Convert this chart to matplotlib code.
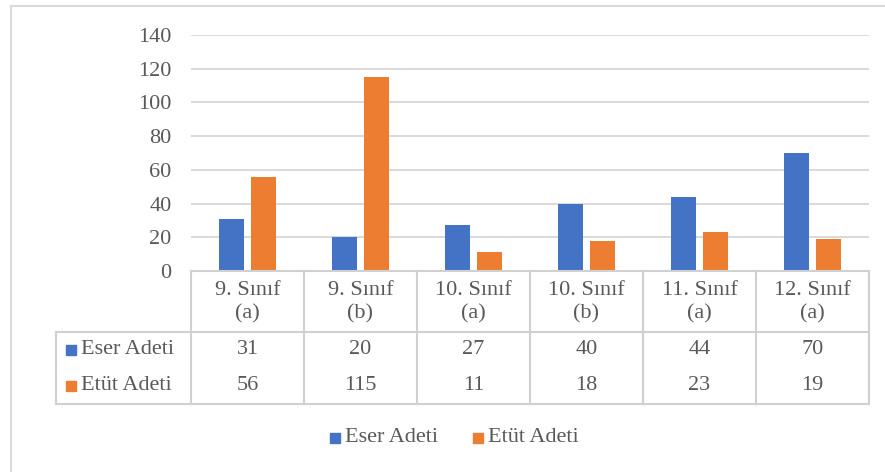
import numpy as np
import matplotlib.pyplot as plt
from matplotlib.patches import Rectangle
from matplotlib.lines import Line2D

categories = ["9. Sınıf\n(a)", "9. Sınıf\n(b)", "10. Sınıf\n(a)", "10. Sınıf\n(b)", "11. Sınıf\n(a)", "12. Sınıf\n(a)"]
series_names = ["Eser Adeti", "Etüt Adeti"]
eser = [31, 20, 27, 40, 44, 70]
etut = [56, 115, 11, 18, 23, 19]
yticks = [0, 20, 40, 60, 80, 100, 120, 140]

blue = "#4472C4"
orange = "#ED7D31"
grey_txt = "#595959"
line_col = "#d9d9d9"
fs = 16

plt.rcParams['font.family'] = ['Liberation Serif', 'DejaVu Serif']

W, H = 885, 472
fig = plt.figure(figsize=(W / 100, H / 100), dpi=100)

def fx(px):
    return px / W

def fy(py):
    return 1 - py / H

# chart frame
fig.add_artist(Line2D([fx(11), fx(11)], [fy(6), 0], color=line_col, lw=1.5))
fig.add_artist(Line2D([fx(11), 1], [fy(6), fy(6)], color=line_col, lw=1.5))

left, right, top, zero = 191, 869, 35, 271
ax = fig.add_axes([fx(left), fy(zero), fx(right - left), (zero - top) / H])
x = np.arange(len(categories))
w = 0.22
ax.bar(x - 0.14, eser, w, color=blue, zorder=3)
ax.bar(x + 0.14, etut, w, color=orange, zorder=3)
ax.set_xlim(-0.5, len(categories) - 0.5)
ax.set_ylim(0, 140)
ax.set_yticks(yticks)
ax.yaxis.grid(True, color=line_col, lw=1.4)
ax.set_axisbelow(True)
for s in ax.spines.values():
    s.set_visible(False)
ax.tick_params(axis='y', length=0, pad=14, labelsize=fs, labelcolor=grey_txt)
ax.set_xticks([])

# data table below, in pixel rows
tbl_left, hdr_bot, tbl_bot = 56, 332, 404
ppu = (right - left) / len(categories)
xl = -0.5 - (left - tbl_left) / ppu
ta = fig.add_axes([fx(tbl_left), fy(tbl_bot), fx(right - tbl_left), (tbl_bot - zero) / H])
ta.set_xlim(xl, len(categories) - 0.5)
ta.set_ylim(tbl_bot, zero)
ta.axis('off')
tc = "#d0d0d0"
lw = 1.5
ta.plot([-0.5, len(categories) - 0.5], [zero, zero], color=tc, lw=lw, clip_on=False)
ta.plot([xl, len(categories) - 0.5], [hdr_bot, hdr_bot], color=tc, lw=lw, clip_on=False)
ta.plot([xl, len(categories) - 0.5], [tbl_bot, tbl_bot], color=tc, lw=lw, clip_on=False)
ta.plot([xl, xl], [hdr_bot, tbl_bot], color=tc, lw=lw, clip_on=False)
for b in np.arange(len(categories) + 1) - 0.5:
    ta.plot([b, b], [zero, tbl_bot], color=tc, lw=lw, clip_on=False)

for i, c in enumerate(categories):
    ta.text(i, 302, c, ha='center', va='center', fontsize=fs, color=grey_txt, linespacing=1.3)
    ta.text(i, 350, str(eser[i]), ha='center', va='center', fontsize=fs, color=grey_txt)
    ta.text(i, 386, str(etut[i]), ha='center', va='center', fontsize=fs, color=grey_txt)

for name, col, py in [(series_names[0], blue, 350), (series_names[1], orange, 386)]:
    fig.add_artist(Rectangle((fx(66), fy(py + 5)), fx(10), 10 / H, color=col))
    fig.text(fx(81), fy(py), name, ha='left', va='center', fontsize=fs, color=grey_txt)

# legend
for name, col, px in [(series_names[0], blue, 330), (series_names[1], orange, 473)]:
    fig.add_artist(Rectangle((fx(px), fy(443)), fx(10), 10 / H, color=col))
    fig.text(fx(px + 15), fy(438), name, ha='left', va='center', fontsize=fs, color=grey_txt)

fig.savefig("out.png", dpi=100)
